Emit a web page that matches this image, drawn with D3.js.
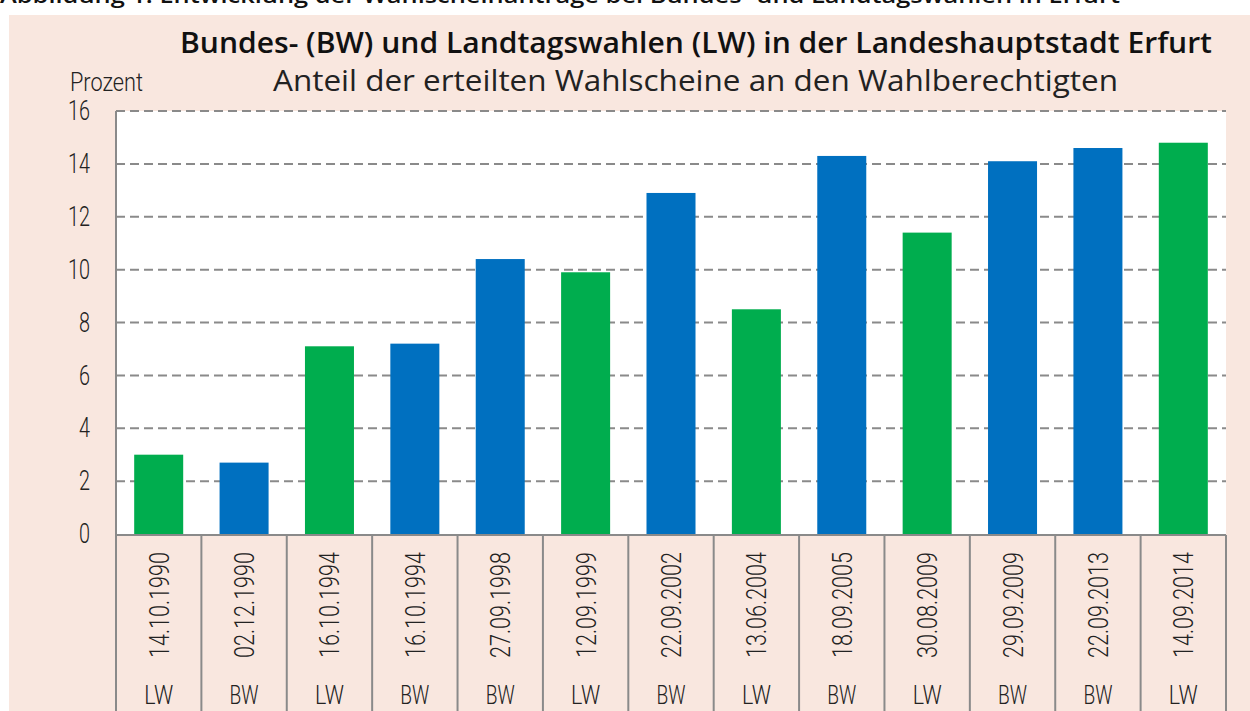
<!DOCTYPE html>
<html>
<head>
<meta charset="utf-8">
<script src="https://cdn.jsdelivr.net/npm/d3@7"></script>
<style>
  body { margin: 0; background: #ffffff; }
  svg { display: block; }
</style>
</head>
<body>
<div id="chart"></div>
<script>
// election dates, type of election and share of issued postal-vote certificates
var dates = ["14.10.1990", "02.12.1990", "16.10.1994", "16.10.1994", "27.09.1998", "12.09.1999",
             "22.09.2002", "13.06.2004", "18.09.2005", "30.08.2009", "29.09.2009", "22.09.2013", "14.09.2014"];
var electionTypes = ["LW", "BW", "LW", "BW", "BW", "LW", "BW", "LW", "BW", "LW", "BW", "BW", "LW"];
var values = [3.0, 2.7, 7.1, 7.2, 10.4, 9.9, 12.9, 8.5, 14.3, 11.4, 14.1, 14.6, 14.8];
var yTicks = [0, 2, 4, 6, 8, 10, 12, 14, 16];

var drawChart = function(){
	const width = 1250;
	const height = 711;

	var pink = "#f9e7df";
	var gridColor = "#8a8a8a";
	var colors = {"LW": "#00ad4e", "BW": "#0070c0"};
	var font = "Roboto, 'Open Sans', sans-serif";

	var svg = d3.select("#chart")
		.append("svg")
		.attr("width", width)
		.attr("height", height);

	// caption of the figure, cut off at the top edge like in the source
	svg.append("text")
		.attr("x", 0)
		.attr("y", 3)
		.attr("font-family", "'Open Sans', sans-serif")
		.attr("font-weight", 600)
		.attr("font-size", 21)
		.attr("fill", "#111")
		.attr("textLength", 1120)
		.attr("lengthAdjust", "spacingAndGlyphs")
		.text("Abbildung 1: Entwicklung der Wahlscheinanträge bei Bundes- und Landtagswahlen in Erfurt");

	// pink panel
	svg.append("rect")
		.attr("x", 9).attr("y", 15)
		.attr("width", width - 9).attr("height", height - 15)
		.attr("fill", pink);

	// scales
	var x = d3.scaleBand()
		.domain(d3.range(dates.length))
		.range([116, 1226])
		.paddingInner(0.426)
		.paddingOuter(0.213);

	var y = d3.scaleLinear()
		.domain([0, 16])
		.range([534, 111]);

	// white plot area
	svg.append("rect")
		.attr("x", 116).attr("y", y(16))
		.attr("width", 1226 - 116).attr("height", y(0) - y(16))
		.attr("fill", "#fff");

	// dashed grid lines
	svg.append("g")
		.selectAll("line")
		.data(yTicks.filter(d => d > 0))
		.enter().append("line")
		.attr("x1", 116).attr("x2", 1226)
		.attr("y1", d => y(d)).attr("y2", d => y(d))
		.attr("stroke", gridColor)
		.attr("stroke-width", 2)
		.attr("stroke-dasharray", "9,5");

	// titles
	svg.append("text")
		.attr("x", 180).attr("y", 53)
		.attr("font-family", "'Open Sans', sans-serif")
		.attr("font-weight", 600)
		.attr("font-size", 29)
		.attr("fill", "#111")
		.attr("textLength", 1032)
		.attr("lengthAdjust", "spacingAndGlyphs")
		.text("Bundes- (BW) und Landtagswahlen (LW) in der Landeshauptstadt Erfurt");

	svg.append("text")
		.attr("x", 273).attr("y", 91)
		.attr("font-family", "'Open Sans', sans-serif")
		.attr("font-weight", 400)
		.attr("font-size", 29)
		.attr("fill", "#222")
		.attr("textLength", 845)
		.attr("lengthAdjust", "spacingAndGlyphs")
		.text("Anteil der erteilten Wahlscheine an den Wahlberechtigten");

	svg.append("text")
		.attr("x", 70).attr("y", 91)
		.attr("font-family", font)
		.attr("font-weight", 300)
		.attr("font-size", 25)
		.attr("fill", "#222")
		.attr("textLength", 73)
		.attr("lengthAdjust", "spacingAndGlyphs")
		.text("Prozent");

	// bars
	svg.append("g")
		.selectAll("rect")
		.data(values)
		.enter().append("rect")
		.attr("x", (d, i) => x(i))
		.attr("y", d => y(d))
		.attr("width", x.bandwidth())
		.attr("height", d => y(0) - y(d))
		.attr("fill", (d, i) => colors[electionTypes[i]]);

	// y axis labels
	var yAxis = svg.append("g")
		.attr("transform", "translate(116,0)")
		.call(d3.axisLeft(y).tickValues(yTicks).tickSize(0).tickPadding(26));
	yAxis.select(".domain").remove();
	yAxis.selectAll("text")
		.attr("font-family", font)
		.attr("font-weight", 300)
		.attr("font-size", 27)
		.attr("fill", "#222")
		.attr("textLength", d => String(d).length * 11)
		.attr("lengthAdjust", "spacingAndGlyphs");

	// axis lines and table grid
	var step = x.step();
	var lines = svg.append("g")
		.attr("stroke", gridColor)
		.attr("stroke-width", 2);
	lines.append("line")
		.attr("x1", 116).attr("x2", 1226)
		.attr("y1", y(0) + 1).attr("y2", y(0) + 1);
	lines.append("line")
		.attr("x1", 116).attr("x2", 116)
		.attr("y1", y(16)).attr("y2", height);
	lines.selectAll(".sep")
		.data(d3.range(dates.length + 1))
		.enter().append("line")
		.attr("class", "sep")
		.attr("x1", i => 116 + i * step).attr("x2", i => 116 + i * step)
		.attr("y1", y(0) + 1).attr("y2", height);

	// date labels (rotated) and election type
	var cells = svg.append("g")
		.selectAll("g")
		.data(dates)
		.enter().append("g")
		.attr("transform", (d, i) => "translate(" + (x(i) + x.bandwidth() / 2) + ",0)");

	cells.append("text")
		.attr("transform", "translate(10,605) rotate(-90)")
		.attr("text-anchor", "middle")
		.attr("font-family", font)
		.attr("font-weight", 300)
		.attr("font-size", 27)
		.attr("fill", "#222")
		.attr("textLength", 106)
		.attr("lengthAdjust", "spacingAndGlyphs")
		.text(d => d);

	cells.append("text")
		.attr("y", 704)
		.attr("text-anchor", "middle")
		.attr("font-family", font)
		.attr("font-weight", 300)
		.attr("font-size", 25)
		.attr("fill", "#222")
		.attr("textLength", 29)
		.attr("lengthAdjust", "spacingAndGlyphs")
		.text((d, i) => electionTypes[i]);
}

drawChart();
</script>
</body>
</html>
